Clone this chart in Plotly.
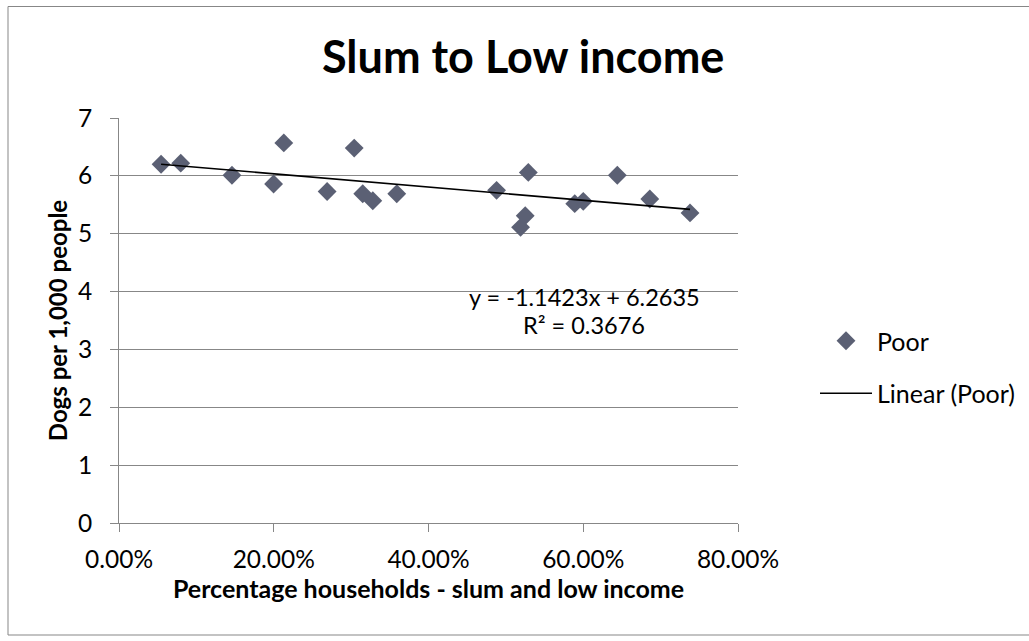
import plotly.graph_objects as go

# Share of households classed as slum / low income (fraction) and dog density
pct_households = [0.0544, 0.0798, 0.146, 0.1998, 0.213, 0.269, 0.304, 0.315, 0.328, 0.359,
                  0.488, 0.519, 0.525, 0.529, 0.589, 0.600, 0.644, 0.686, 0.738]
dogs_per_1000 = [6.20, 6.22, 6.01, 5.86, 6.57, 5.73, 6.48, 5.69, 5.57, 5.69,
                 5.75, 5.11, 5.31, 6.06, 5.52, 5.56, 6.01, 5.60, 5.36]

# Linear trendline coefficients and fit quality
trend_slope = -1.1423
trend_intercept = 6.2635
trend_r2 = 0.3676

x_ticks = [0.0, 0.2, 0.4, 0.6, 0.8]
y_ticks = [0, 1, 2, 3, 4, 5, 6, 7]

FONT = "Lato"
GRAY = "#878787"
MARKER = "#5b6074"

W, H = 1029, 641
PL, PT, PR, PB = 119, 118, 291, 118
PW, PH = W - PL - PR, H - PT - PB


def px(xp):
    return (xp - PL) / PW


def py(yp):
    return (PT + PH - yp) / PH


x_lo, x_hi = min(pct_households), max(pct_households)
trend_x = [x_lo, x_hi]
trend_y = [trend_slope * v + trend_intercept for v in trend_x]

fig = go.Figure()
fig.add_trace(go.Scatter(
    x=pct_households, y=dogs_per_1000, mode="markers", name="Poor",
    legendgroup="a",
    marker=dict(symbol="diamond", size=14.5, color=MARKER, line=dict(width=0)),
))
fig.add_trace(go.Scatter(
    x=trend_x, y=trend_y, mode="lines", name="Linear (Poor)",
    legendgroup="b",
    line=dict(color="black", width=1.6),
))

eq_text = f"y = {trend_slope:.4f}x + {trend_intercept:.4f}"
r2_text = f"R² = {trend_r2:.4f}"

annotations = [
    dict(text="<b>Slum to Low income</b>", xref="paper", yref="paper",
         x=px(523), y=py(56), xanchor="center", yanchor="middle",
         showarrow=False, font=dict(family=FONT, size=45, color="black")),
    dict(text=eq_text, xref="paper", yref="paper",
         x=px(584), y=py(297), xanchor="center", yanchor="middle",
         showarrow=False, font=dict(family=FONT, size=23.5, color="black")),
    dict(text=r2_text, xref="paper", yref="paper",
         x=px(584), y=py(325), xanchor="center", yanchor="middle",
         showarrow=False, font=dict(family=FONT, size=23.5, color="black")),
]

shapes = [
    dict(type="rect", xref="paper", yref="paper",
         x0=px(8), x1=px(1040), y0=py(635), y1=py(6.5),
         line=dict(color=GRAY, width=1), fillcolor="rgba(0,0,0,0)", layer="below"),
]

fig.update_layout(
    width=W, height=H, autosize=False,
    margin=dict(l=PL, r=PR, t=PT, b=PB, pad=0, autoexpand=False),
    paper_bgcolor="white", plot_bgcolor="white",
    font=dict(family=FONT, size=24, color="black"),
    showlegend=True,
    legend=dict(x=px(815), y=py(367), xanchor="left", yanchor="middle",
                traceorder="grouped", tracegroupgap=17, itemwidth=52,
                font=dict(family=FONT, size=25, color="black"),
                bgcolor="rgba(0,0,0,0)"),
    annotations=annotations,
    shapes=shapes,
    xaxis=dict(
        range=[0, 0.8], tickvals=x_ticks, tickformat=".2%",
        showgrid=False, zeroline=False,
        showline=True, linecolor=GRAY, linewidth=1,
        ticks="outside", ticklen=8, tickcolor=GRAY, tickwidth=1,
        ticklabelstandoff=7,
        tickfont=dict(family=FONT, size=24.5),
        title=dict(text="<b>Percentage households - slum and low income</b>",
                   font=dict(family=FONT, size=25), standoff=7),
    ),
    yaxis=dict(
        range=[0, 7], tickvals=y_ticks,
        showgrid=True, gridcolor=GRAY, gridwidth=1, zeroline=False,
        showline=True, linecolor=GRAY, linewidth=1,
        ticks="outside", ticklen=8, tickcolor=GRAY, tickwidth=1,
        ticklabelstandoff=13,
        tickfont=dict(family=FONT, size=24.5),
        title=dict(text="<b>Dogs per 1,000 people</b>",
                   font=dict(family=FONT, size=24), standoff=3),
    ),
)

fig.write_html("out.html", config={"displayModeBar": False})
